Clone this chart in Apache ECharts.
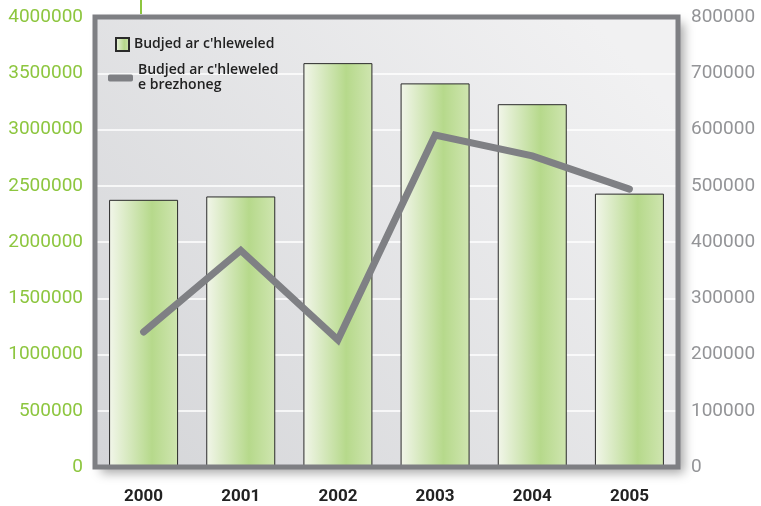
<!DOCTYPE html>
<html>
<head>
<meta charset="utf-8">
<script src="https://cdn.jsdelivr.net/npm/echarts@6/dist/echarts.min.js"></script>
<style>
  html, body { margin: 0; padding: 0; background: #ffffff; }
  #chart { width: 761px; height: 506px; }
</style>
</head>
<body>
<div id="chart"></div>
<script>
// Years on the category axis
const years = ['2000', '2001', '2002', '2003', '2004', '2005'];
// Overall budget (left axis)
const budgetTotal = [2375000, 2405000, 3590000, 3410000, 3225000, 2430000];
// Breton-language budget (right axis)
const budgetBreton = [240000, 385000, 226000, 590000, 553000, 494000];

const nameTotal = "Budjed ar c'hleweled";
const nameBreton = "Budjed ar c'hleweled\ne brezhoneg";

const gridBox = { left: 95, top: 17, right: 83, bottom: 39 };
const W = 761, H = 506;

const barFill = new echarts.graphic.LinearGradient(0, 0, 1, 0, [
  { offset: 0, color: '#f2f6ea' },
  { offset: 0.62, color: '#b6d98b' },
  { offset: 1, color: '#cfe5b0' }
]);

const plain = v => String(v);
const legendText = { fontSize: 14, fontWeight: 600, color: '#222', fontFamily: 'Open Sans', lineHeight: 15 };

const chart = echarts.init(document.getElementById('chart'), null, { renderer: 'canvas' });

chart.setOption({
  animation: false,
  textStyle: { fontFamily: 'Roboto' },
  grid: {
    left: gridBox.left, top: gridBox.top, right: gridBox.right, bottom: gridBox.bottom,
    show: true,
    borderWidth: 0,
    backgroundColor: new echarts.graphic.LinearGradient(0, 1, 0.85, 0, [
      { offset: 0, color: '#d4d5d8' },
      { offset: 1, color: '#f1f1f2' }
    ]),
    shadowColor: 'rgba(0,0,0,0.35)',
    shadowBlur: 10,
    shadowOffsetX: 6,
    shadowOffsetY: 6
  },
  legend: [
    {
      data: [nameTotal],
      left: 110, top: 32,
      itemWidth: 13, itemHeight: 13,
      icon: 'rect',
      itemGap: 0,
      textStyle: legendText
    },
    {
      data: [{ name: nameBreton, icon: 'roundRect' }],
      left: 103, top: 58,
      itemWidth: 25, itemHeight: 7,
      textStyle: legendText
    }
  ],
  xAxis: {
    type: 'category',
    data: years,
    axisLine: { show: false },
    axisTick: { show: false },
    axisLabel: { margin: 21, fontSize: 17, fontWeight: 'bold', color: '#222', fontFamily: 'Roboto' }
  },
  yAxis: [
    {
      type: 'value', min: 0, max: 4000000, interval: 500000,
      axisLine: { show: false }, axisTick: { show: false },
      axisLabel: { margin: 12, fontSize: 19, color: '#8dc63f', fontFamily: 'Roboto', formatter: plain },
      splitLine: { show: true, lineStyle: { color: '#ffffff', width: 1.5 } }
    },
    {
      type: 'value', min: 0, max: 800000, interval: 100000,
      axisLine: { show: false }, axisTick: { show: false },
      axisLabel: { margin: 13, fontSize: 19, color: '#939497', fontFamily: 'Roboto', formatter: plain },
      splitLine: { show: false }
    }
  ],
  series: [
    {
      name: nameTotal,
      type: 'bar',
      data: budgetTotal,
      yAxisIndex: 0,
      barWidth: 69,
      itemStyle: { color: barFill, borderColor: '#2a2a2a', borderWidth: 1 }
    },
    {
      name: nameBreton,
      type: 'line',
      data: budgetBreton,
      yAxisIndex: 1,
      showSymbol: false,
      symbol: 'none',
      z: 5,
      itemStyle: { color: '#7f8084' },
      lineStyle: { color: '#7f8084', width: 7, cap: 'round', join: 'miter' }
    }
  ],
  graphic: [
    {
      type: 'rect',
      z: 100,
      shape: {
        x: gridBox.left, y: gridBox.top,
        width: W - gridBox.left - gridBox.right,
        height: H - gridBox.top - gridBox.bottom
      },
      style: { fill: null, stroke: '#7e7f83', lineWidth: 5 }
    },
    {
      type: 'line',
      z: 100,
      shape: { x1: 141, y1: 0, x2: 141, y2: 14 },
      style: { stroke: '#8dc63f', lineWidth: 2 }
    }
  ]
});
</script>
</body>
</html>
